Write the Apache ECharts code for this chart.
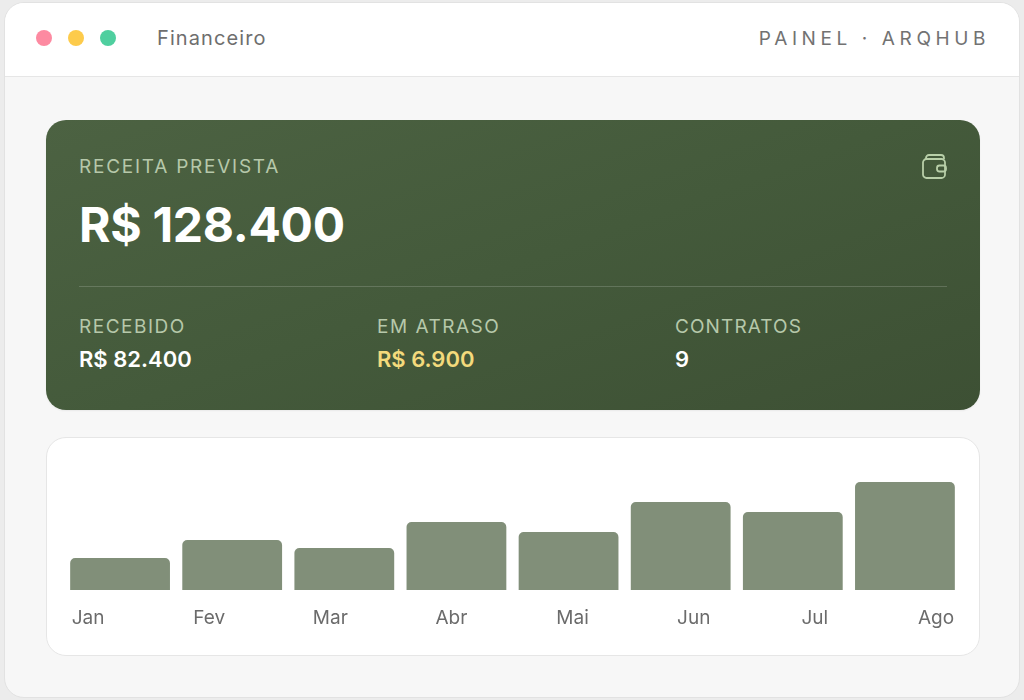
<!DOCTYPE html>
<html>
<head>
<meta charset="utf-8">
<script src="https://cdn.jsdelivr.net/npm/echarts@6/dist/echarts.min.js"></script>
<style>
  html,body{margin:0;padding:0;width:1024px;height:700px;background:#ececec;overflow:hidden;font-family:Inter,"Noto Sans",sans-serif;}
  .win{position:absolute;left:4px;top:2px;width:1014px;height:694px;background:#f7f7f7;border:1px solid #e2e2e2;border-radius:20px;overflow:hidden;}
  .bar{position:absolute;left:0;top:0;width:100%;height:73px;background:#fff;border-bottom:1px solid #e6e6e6;}
  .dot{position:absolute;top:27px;width:16px;height:16px;border-radius:50%;}
  .title{position:absolute;left:152px;top:22px;font-size:20px;letter-spacing:1.1px;color:#6e6e6e;line-height:26px;white-space:nowrap;}
  .brand{position:absolute;right:29px;top:24px;font-size:19px;letter-spacing:4.6px;color:#727272;line-height:24px;white-space:nowrap;}
  .card{position:absolute;left:41px;top:117px;width:934px;height:290px;border-radius:20px;
        background:linear-gradient(160deg,#4c6242 0%,#445a3b 50%,#3d5034 100%);box-shadow:0 1px 2px rgba(0,0,0,0.06);}
  .lbl{position:absolute;font-size:19px;letter-spacing:1.5px;color:#b6c8aa;line-height:22px;white-space:nowrap;}
  .big{position:absolute;left:33px;top:76px;font-size:48px;font-weight:700;color:#fff;line-height:58px;letter-spacing:-0.3px;white-space:nowrap;}
  .div{position:absolute;left:33px;width:868px;top:166px;height:1px;background:rgba(255,255,255,0.17);}
  .val{position:absolute;font-size:22px;font-weight:600;color:#fff;line-height:28px;white-space:nowrap;}
  .icon{position:absolute;left:875px;top:33px;width:28px;height:28px;}
  .ccard{position:absolute;left:41px;top:434px;width:932px;height:217px;border-radius:20px;background:#fff;border:1px solid #e6e6e6;}
  #chart{position:absolute;left:0;top:0;width:932px;height:217px;}
</style>
</head>
<body>
<div class="win">
  <div class="bar">
    <div class="dot" style="left:31px;background:#fd8aa1"></div>
    <div class="dot" style="left:63px;background:#fdcb4b"></div>
    <div class="dot" style="left:95px;background:#4fcf9f"></div>
    <div class="title">Financeiro</div>
    <div class="brand">PAINEL · ARQHUB</div>
  </div>
  <div class="card">
    <div class="lbl" style="left:33px;top:36px;letter-spacing:1.75px;">RECEITA PREVISTA</div>
    <div class="big">R$ 128.400</div>
    <svg class="icon" viewBox="0 0 28 28" fill="none" stroke="#b8cfa8" stroke-width="1.8" stroke-linejoin="round">
      <rect x="2" y="6" width="22" height="19" rx="3.5"/>
      <path d="M5 6 V5 a3 3 0 0 1 3-3 h12 a3 3 0 0 1 3 3 v1"/>
      <rect x="16" y="12.5" width="9" height="6" rx="2.5"/>
    </svg>
    <div class="div"></div>
    <div class="lbl" style="left:33px;top:196px;">RECEBIDO</div>
    <div class="val" style="left:33px;top:225px;">R$ 82.400</div>
    <div class="lbl" style="left:331px;top:196px;">EM ATRASO</div>
    <div class="val" style="left:331px;top:225px;color:#f3da7c;">R$ 6.900</div>
    <div class="lbl" style="left:629px;top:196px;letter-spacing:1.1px;">CONTRATOS</div>
    <div class="val" style="left:629px;top:225px;">9</div>
  </div>
  <div class="ccard"><div id="chart"></div></div>
</div>
<script>
const months = ['Jan','Fev','Mar','Abr','Mai','Jun','Jul','Ago'];
const revenue = [32, 50, 42, 68, 58, 88, 78, 108];
const yMax = 120;

const chart = echarts.init(document.getElementById('chart'), null, {renderer:'canvas'});
chart.setOption({
  animation:false,
  grid:[
    {left:17, right:18, top:32, bottom:65},
    {left:41, right:43, top:32, bottom:65}
  ],
  xAxis:[
    {type:'category', gridIndex:0, data:months, axisLine:{show:false}, axisTick:{show:false}, axisLabel:{show:false}},
    {type:'category', gridIndex:1, data:months, boundaryGap:false, axisLine:{show:false}, axisTick:{show:false},
     axisLabel:{show:true, interval:0, margin:19, fontFamily:'Inter', fontSize:19, color:'#6b6b6b'}}
  ],
  yAxis:[
    {type:'value', gridIndex:0, min:0, max:yMax, show:false, splitLine:{show:false}},
    {type:'value', gridIndex:1, min:0, max:yMax, show:false, splitLine:{show:false}}
  ],
  series:[{
    type:'bar', xAxisIndex:0, yAxisIndex:0, data:revenue, barCategoryGap:'11%',
    itemStyle:{color:'#818f79', borderRadius:[5,5,0,0]}, silent:true
  }]
});
</script>
</body>
</html>
